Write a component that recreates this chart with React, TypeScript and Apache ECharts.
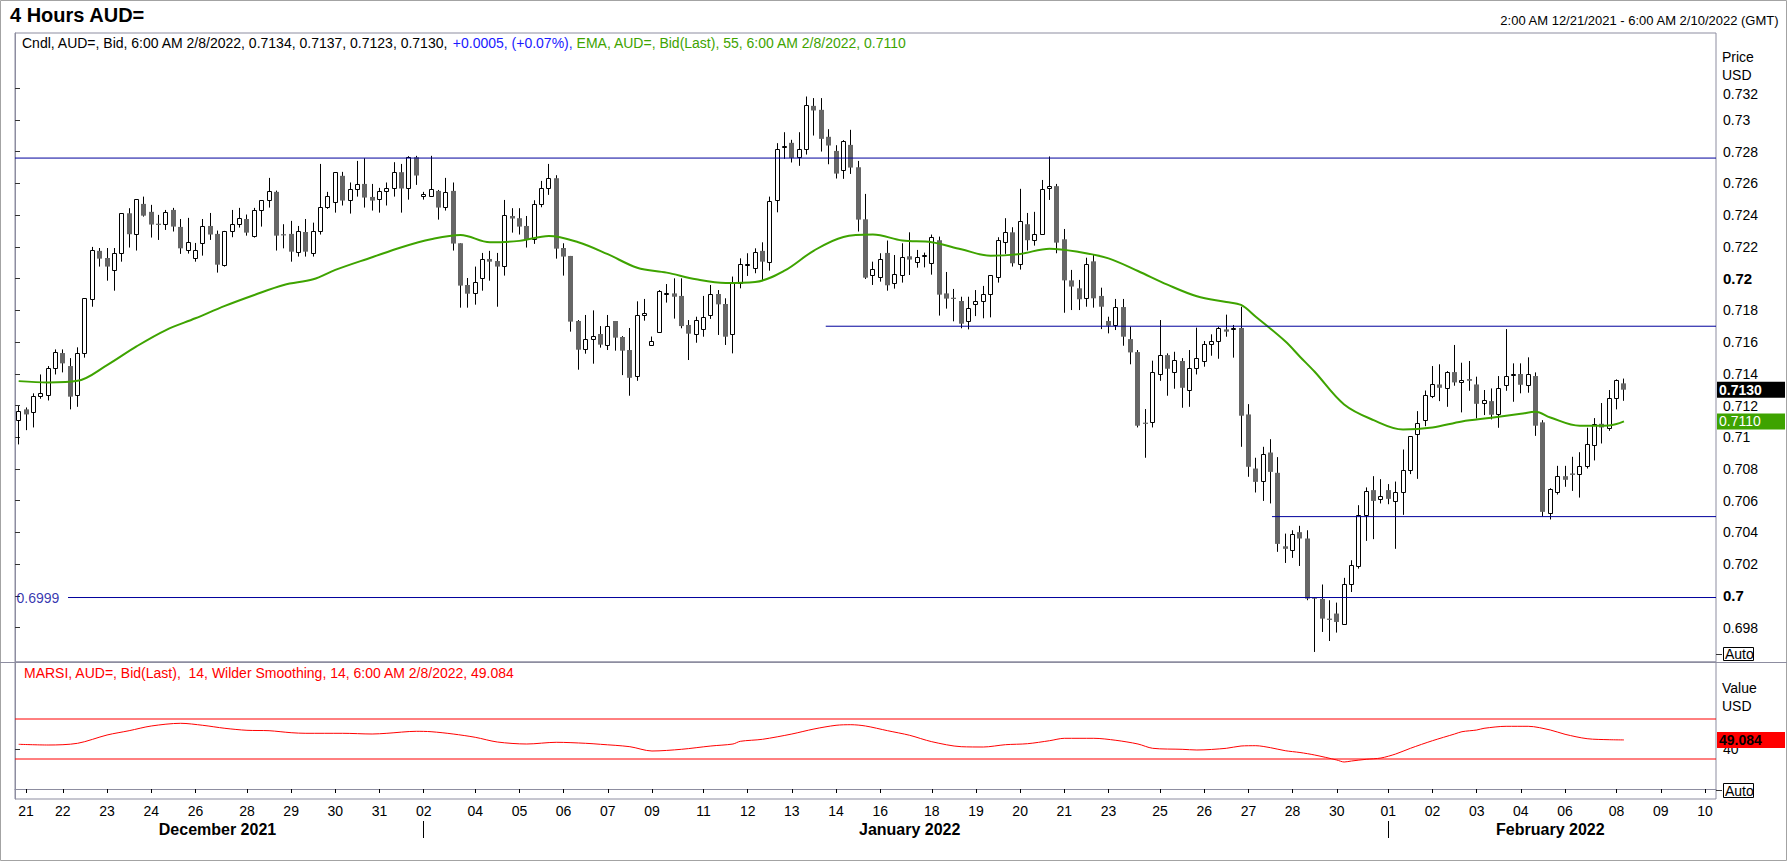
import React, { useEffect, useRef } from 'react';
import * as echarts from 'echarts';

const FONT = "'Liberation Sans', Arial, sans-serif";
const SLOTS = 231; // 4-hour slots from 2:00 AM 12/21/2021 to 6:00 AM 2/10/2022

// [open, close, low, high] for each 4-hour candle, slot 0 = 2:00 AM 12/21/2021
const candles: number[][] = [
  [0.71106, 0.71165, 0.70955, 0.71197], [0.71176, 0.71144, 0.71045, 0.71188], [0.71157, 0.71260, 0.71062, 0.71277],
  [0.71258, 0.71277, 0.71243, 0.71396], [0.71264, 0.71434, 0.71232, 0.71449], [0.71434, 0.71535, 0.71396, 0.71554],
  [0.71531, 0.71466, 0.71409, 0.71554], [0.71449, 0.71256, 0.71176, 0.71499], [0.71264, 0.71529, 0.71192, 0.71567],
  [0.71529, 0.71876, 0.71502, 0.71876], [0.71870, 0.72179, 0.71823, 0.72200], [0.72175, 0.72126, 0.72076, 0.72193],
  [0.72130, 0.72076, 0.71987, 0.72193], [0.72053, 0.72160, 0.71924, 0.72193], [0.72160, 0.72412, 0.72107, 0.72412],
  [0.72412, 0.72280, 0.72196, 0.72444], [0.72280, 0.72501, 0.72177, 0.72501], [0.72471, 0.72397, 0.72391, 0.72517],
  [0.72421, 0.72341, 0.72259, 0.72465], [0.72345, 0.72341, 0.72244, 0.72402], [0.72343, 0.72421, 0.72307, 0.72433],
  [0.72433, 0.72328, 0.72297, 0.72446], [0.72326, 0.72191, 0.72156, 0.72376], [0.72179, 0.72229, 0.72158, 0.72383],
  [0.72128, 0.72179, 0.72107, 0.72225], [0.72223, 0.72330, 0.72145, 0.72376], [0.72332, 0.72278, 0.72244, 0.72414],
  [0.72282, 0.72088, 0.72038, 0.72303], [0.72088, 0.72301, 0.72076, 0.72301], [0.72299, 0.72343, 0.72261, 0.72433],
  [0.72343, 0.72381, 0.72322, 0.72446], [0.72376, 0.72290, 0.72271, 0.72404], [0.72269, 0.72433, 0.72259, 0.72446],
  [0.72433, 0.72494, 0.72328, 0.72494], [0.72494, 0.72551, 0.72448, 0.72635], [0.72547, 0.72271, 0.72177, 0.72555],
  [0.72280, 0.72273, 0.72191, 0.72343], [0.72282, 0.72170, 0.72107, 0.72364], [0.72170, 0.72301, 0.72139, 0.72332],
  [0.72294, 0.72170, 0.72139, 0.72376], [0.72160, 0.72301, 0.72139, 0.72353], [0.72299, 0.72450, 0.72278, 0.72723],
  [0.72450, 0.72519, 0.72440, 0.72547], [0.72482, 0.72671, 0.72416, 0.72671], [0.72648, 0.72492, 0.72461, 0.72673],
  [0.72494, 0.72564, 0.72410, 0.72606], [0.72564, 0.72595, 0.72517, 0.72742], [0.72597, 0.72511, 0.72448, 0.72759],
  [0.72515, 0.72492, 0.72429, 0.72597], [0.72498, 0.72551, 0.72416, 0.72572], [0.72551, 0.72570, 0.72461, 0.72606],
  [0.72570, 0.72671, 0.72517, 0.72734], [0.72671, 0.72568, 0.72416, 0.72723], [0.72568, 0.72765, 0.72498, 0.72772],
  [0.72765, 0.72650, 0.72591, 0.72774], [0.72519, 0.72532, 0.72498, 0.72547], [0.72519, 0.72564, 0.72519, 0.72774],
  [0.72553, 0.72448, 0.72372, 0.72559], [0.72450, 0.72545, 0.72429, 0.72635], [0.72553, 0.72221, 0.72177, 0.72606],
  [0.72223, 0.71956, 0.71817, 0.72223], [0.71960, 0.71905, 0.71817, 0.72004], [0.71907, 0.71977, 0.71836, 0.72076],
  [0.72002, 0.72122, 0.71924, 0.72162], [0.72124, 0.72107, 0.71987, 0.72175], [0.72111, 0.72076, 0.71823, 0.72162],
  [0.72078, 0.72400, 0.72019, 0.72496], [0.72395, 0.72379, 0.72290, 0.72444], [0.72381, 0.72328, 0.72278, 0.72444],
  [0.72332, 0.72248, 0.72196, 0.72395], [0.72248, 0.72469, 0.72219, 0.72494], [0.72469, 0.72570, 0.72450, 0.72616],
  [0.72570, 0.72633, 0.72528, 0.72723], [0.72633, 0.72189, 0.72126, 0.72652], [0.72193, 0.72139, 0.72019, 0.72223],
  [0.72143, 0.71729, 0.71666, 0.72143], [0.71733, 0.71552, 0.71426, 0.71739], [0.71554, 0.71617, 0.71527, 0.71771],
  [0.71617, 0.71636, 0.71464, 0.71800], [0.71651, 0.71584, 0.71565, 0.71701], [0.71579, 0.71699, 0.71550, 0.71771],
  [0.71733, 0.71628, 0.71546, 0.71733], [0.71632, 0.71546, 0.71392, 0.71638], [0.71550, 0.71375, 0.71262, 0.71689],
  [0.71384, 0.71769, 0.71356, 0.71857], [0.71769, 0.71783, 0.71735, 0.71872], [0.71580, 0.71606, 0.71580, 0.71635],
  [0.71666, 0.71922, 0.71666, 0.71928], [0.71905, 0.71908, 0.71849, 0.71966], [0.71907, 0.71886, 0.71748, 0.72002],
  [0.71891, 0.71701, 0.71687, 0.72002], [0.71708, 0.71653, 0.71487, 0.71739], [0.71649, 0.71739, 0.71596, 0.71760],
  [0.71680, 0.71756, 0.71634, 0.71891], [0.71769, 0.71901, 0.71746, 0.71960], [0.71903, 0.71838, 0.71645, 0.71928],
  [0.71840, 0.71634, 0.71582, 0.71876], [0.71649, 0.71971, 0.71529, 0.72013], [0.71971, 0.72090, 0.71939, 0.72128],
  [0.72088, 0.72093, 0.72017, 0.72160], [0.72072, 0.72170, 0.72034, 0.72191], [0.72175, 0.72107, 0.71992, 0.72229],
  [0.72107, 0.72492, 0.72050, 0.72517], [0.72492, 0.72816, 0.72418, 0.72854], [0.72830, 0.72835, 0.72755, 0.72923],
  [0.72856, 0.72761, 0.72732, 0.72875], [0.72765, 0.72816, 0.72711, 0.72923], [0.72816, 0.73094, 0.72782, 0.73148],
  [0.73089, 0.73060, 0.72902, 0.73138], [0.73064, 0.72881, 0.72801, 0.73138], [0.72894, 0.72839, 0.72721, 0.72942],
  [0.72805, 0.72662, 0.72631, 0.72841], [0.72683, 0.72866, 0.72629, 0.72873], [0.72843, 0.72700, 0.72660, 0.72938],
  [0.72702, 0.72372, 0.72297, 0.72742], [0.72374, 0.72006, 0.71998, 0.72534], [0.72021, 0.72059, 0.71960, 0.72107],
  [0.72008, 0.72122, 0.71981, 0.72160], [0.72162, 0.71958, 0.71924, 0.72240], [0.71971, 0.72027, 0.71937, 0.72149],
  [0.72027, 0.72139, 0.71975, 0.72223], [0.72141, 0.72120, 0.72023, 0.72292], [0.72109, 0.72139, 0.72069, 0.72181],
  [0.72143, 0.72147, 0.72071, 0.72164], [0.72097, 0.72261, 0.72025, 0.72278], [0.72242, 0.71899, 0.71767, 0.72265],
  [0.71907, 0.71874, 0.71811, 0.72042], [0.71878, 0.71875, 0.71731, 0.71935], [0.71859, 0.71716, 0.71687, 0.71886],
  [0.71737, 0.71817, 0.71680, 0.71886], [0.71838, 0.71859, 0.71764, 0.71928], [0.71857, 0.71901, 0.71750, 0.71954],
  [0.71901, 0.72021, 0.71756, 0.72021], [0.72011, 0.72242, 0.71975, 0.72261], [0.72229, 0.72292, 0.72156, 0.72381],
  [0.72292, 0.72097, 0.72076, 0.72324], [0.72090, 0.72362, 0.72057, 0.72566], [0.72343, 0.72242, 0.72177, 0.72414],
  [0.72242, 0.72280, 0.72208, 0.72421], [0.72280, 0.72564, 0.72280, 0.72622], [0.72570, 0.72583, 0.72496, 0.72770],
  [0.72583, 0.72227, 0.72160, 0.72597], [0.72248, 0.71989, 0.71785, 0.72313], [0.71989, 0.71950, 0.71802, 0.72055],
  [0.71939, 0.71870, 0.71802, 0.71992], [0.71876, 0.72090, 0.71823, 0.72132], [0.72109, 0.71876, 0.71817, 0.72149],
  [0.71891, 0.71823, 0.71682, 0.71943], [0.71733, 0.71703, 0.71655, 0.71760], [0.71706, 0.71821, 0.71676, 0.71872],
  [0.71821, 0.71634, 0.71577, 0.71872], [0.71619, 0.71535, 0.71460, 0.71697], [0.71537, 0.71073, 0.71062, 0.71550],
  [0.71091, 0.71087, 0.70871, 0.71178], [0.71091, 0.71409, 0.71062, 0.71483], [0.71396, 0.71516, 0.71356, 0.71739],
  [0.71518, 0.71432, 0.71262, 0.71529], [0.71409, 0.71487, 0.71306, 0.71539], [0.71481, 0.71312, 0.71186, 0.71499],
  [0.71295, 0.71434, 0.71192, 0.71550], [0.71434, 0.71497, 0.71396, 0.71691], [0.71476, 0.71586, 0.71445, 0.71607],
  [0.71586, 0.71605, 0.71514, 0.71649], [0.71605, 0.71689, 0.71495, 0.71697], [0.71680, 0.71666, 0.71634, 0.71773],
  [0.71686, 0.71688, 0.71502, 0.71708], [0.71689, 0.71136, 0.70940, 0.71823], [0.71144, 0.70814, 0.70751, 0.71209],
  [0.70803, 0.70719, 0.70652, 0.70871], [0.70721, 0.70892, 0.70599, 0.70940], [0.70904, 0.70782, 0.70583, 0.70988],
  [0.70776, 0.70328, 0.70278, 0.70875], [0.70313, 0.70297, 0.70208, 0.70393], [0.70292, 0.70393, 0.70240, 0.70414],
  [0.70402, 0.70362, 0.70189, 0.70442], [0.70362, 0.69983, 0.69973, 0.70414], [0.69990, 0.69983, 0.69647, 0.69990],
  [0.69981, 0.69857, 0.69773, 0.70072], [0.69857, 0.69849, 0.69716, 0.69973], [0.69889, 0.69836, 0.69769, 0.69958],
  [0.69825, 0.70078, 0.69825, 0.70114], [0.70078, 0.70198, 0.70025, 0.70225], [0.70189, 0.70513, 0.70172, 0.70572],
  [0.70513, 0.70662, 0.70347, 0.70684], [0.70667, 0.70599, 0.70358, 0.70755], [0.70614, 0.70633, 0.70583, 0.70736],
  [0.70667, 0.70612, 0.70578, 0.70705], [0.70595, 0.70652, 0.70297, 0.70721], [0.70652, 0.70791, 0.70511, 0.70923],
  [0.70791, 0.71007, 0.70768, 0.71007], [0.71024, 0.71091, 0.70738, 0.71165], [0.71108, 0.71264, 0.71070, 0.71295],
  [0.71258, 0.71333, 0.71247, 0.71449], [0.71333, 0.71312, 0.71228, 0.71460], [0.71308, 0.71409, 0.71192, 0.71417],
  [0.71411, 0.71346, 0.71325, 0.71582], [0.71346, 0.71359, 0.71157, 0.71470], [0.71367, 0.71356, 0.71293, 0.71481],
  [0.71333, 0.71211, 0.71119, 0.71382], [0.71213, 0.71232, 0.71140, 0.71298], [0.71228, 0.71142, 0.71113, 0.71308],
  [0.71142, 0.71308, 0.71060, 0.71386], [0.71327, 0.71384, 0.71293, 0.71682], [0.71396, 0.71401, 0.71224, 0.71466],
  [0.71399, 0.71331, 0.71277, 0.71466], [0.71331, 0.71399, 0.71281, 0.71504], [0.71386, 0.71073, 0.71009, 0.71409],
  [0.71094, 0.70530, 0.70501, 0.71108], [0.70519, 0.70671, 0.70482, 0.70679], [0.70652, 0.70755, 0.70639, 0.70820],
  [0.70755, 0.70732, 0.70688, 0.70820], [0.70772, 0.70763, 0.70662, 0.70877], [0.70766, 0.70816, 0.70620, 0.70906],
  [0.70816, 0.70955, 0.70803, 0.71060], [0.70955, 0.71085, 0.70854, 0.71121], [0.71085, 0.71062, 0.70961, 0.71216],
  [0.71056, 0.71245, 0.71041, 0.71298], [0.71245, 0.71359, 0.71176, 0.71365], [0.71340, 0.71300, 0.71230, 0.71370],
];

// EMA(55): [slot, value]
const emaPoints: number[][] = [
  [0, 0.71354], [4, 0.71346], [8, 0.71356], [12, 0.71455], [16, 0.71573], [20, 0.71676], [24, 0.71750],
  [28, 0.71828], [32, 0.71897], [36, 0.71960], [40, 0.71996], [43, 0.72055], [48, 0.72135], [52, 0.72198],
  [56, 0.72248], [60, 0.72275], [64, 0.72229], [68, 0.72238], [72, 0.72269], [76, 0.72229], [80, 0.72154],
  [84, 0.72069], [88, 0.72038], [92, 0.71996], [96, 0.71973], [100, 0.71979], [104, 0.72050], [108, 0.72177],
  [112, 0.72263], [116, 0.72278], [120, 0.72240], [124, 0.72229], [128, 0.72185], [132, 0.72145], [136, 0.72156],
  [140, 0.72189], [144, 0.72168], [148, 0.72128], [152, 0.72048], [156, 0.71962], [160, 0.71889], [164, 0.71853],
  [166, 0.71834], [168, 0.71760], [172, 0.71605], [174, 0.71508], [176, 0.71413], [180, 0.71207], [184, 0.71108],
  [188, 0.71049], [192, 0.71062], [196, 0.71100], [200, 0.71123], [204, 0.71148], [206, 0.71161], [208, 0.71125],
  [212, 0.71073], [216, 0.71075], [218, 0.71100],
];

// MARSI(14): [slot, value]
const rsiPoints: number[][] = [
  [0, 44.7], [4, 44.0], [8, 45.7], [12, 54.0], [15, 58.3], [18, 63.0], [22, 65.7], [25, 63.7], [28, 60.7],
  [31, 58.7], [34, 58.3], [37, 56.3], [39, 55.7], [44, 55.7], [48, 55.0], [50, 55.7], [54, 57.7], [56, 57.3],
  [59, 55.0], [62, 51.7], [65, 47.0], [69, 45.0], [73, 46.7], [77, 45.7], [79, 44.7], [83, 42.3], [86, 38.0],
  [90, 39.7], [94, 43.0], [97, 45.0], [98, 47.7], [101, 49.7], [105, 55.0], [108, 60.0], [111, 63.7], [113, 64.3],
  [115, 63.0], [118, 58.3], [121, 53.7], [124, 47.3], [128, 42.3], [131, 42.0], [134, 44.3], [137, 45.3],
  [140, 48.3], [142, 50.7], [146, 50.7], [149, 48.7], [152, 45.0], [154, 40.7], [158, 39.7], [160, 39.0],
  [164, 40.7], [166, 43.0], [168, 43.3], [170, 41.3], [172, 38.3], [174, 36.5], [176, 34.0], [179, 29.0],
  [180, 27.0], [181, 28.0], [183, 29.7], [185, 31.0], [187, 35.0], [189, 40.7], [192, 48.3], [195, 55.0],
  [196, 57.3], [198, 59.0], [199, 60.7], [202, 62.7], [205, 62.7], [208, 59.0], [210, 54.7], [213, 50.3],
  [216, 49.3], [218, 49.084],
];

// horizontal support / resistance lines: value and first slot
const levelValues = [0.7276, 0.7170, 0.7050, 0.6999];
const levelStartSlots = [0, 110.1, 170.7, 7.2];
const rsiBands = [70, 30];

const priceTicks = [0.698, 0.7, 0.702, 0.704, 0.706, 0.708, 0.71, 0.712, 0.714, 0.716, 0.718, 0.72, 0.722,
  0.724, 0.726, 0.728, 0.73, 0.732];
const boldPriceTicks = [0.7, 0.72];
const rsiTicks = [40];

const dayTicks: [number, string][] = [
  [1, '21'], [6, '22'], [12, '23'], [18, '24'], [24, '26'], [31, '28'], [37, '29'], [43, '30'], [49, '31'],
  [55, '02'], [62, '04'], [68, '05'], [74, '06'], [80, '07'], [86, '09'], [93, '11'], [99, '12'], [105, '13'],
  [111, '14'], [117, '16'], [124, '18'], [130, '19'], [136, '20'], [142, '21'], [148, '23'], [155, '25'],
  [161, '26'], [167, '27'], [173, '28'], [179, '30'], [186, '01'], [192, '02'], [198, '03'], [204, '04'],
  [210, '06'], [217, '08'], [223, '09'], [229, '10'],
];
const monthLabels: [number, string][] = [[27, 'December 2021'], [121, 'January 2022'], [208, 'February 2022']];
const monthBreaks = [55, 186];

const lastClose = 0.7130;
const lastEma = 0.7110;
const lastRsi = 49.084;

const titleText = '4 Hours AUD=';
const rangeText = '2:00 AM 12/21/2021 - 6:00 AM 2/10/2022 (GMT)';
const candleLegend = 'Cndl, AUD=, Bid, 6:00 AM 2/8/2022, 0.7134, 0.7137, 0.7123, 0.7130, ';
const changeLegend = '+0.0005, (+0.07%), ';
const emaLegend = 'EMA, AUD=, Bid(Last), 55, 6:00 AM 2/8/2022, 0.7110';
const rsiLegend = 'MARSI, AUD=, Bid(Last),  14, Wilder Smoothing, 14, 6:00 AM 2/8/2022, 49.084';

const PRICE_MIN = 0.695836;
const PRICE_MAX = 0.735483;
const RSI_MIN = -10;
const RSI_MAX = 127;

const BLUE = '#00009c';
const GREEN = '#3ea300';
const RED = '#ff0000';
const AXIS = '#8d8da0';

function boxStyle(bg: string, fg: string, bold: boolean) {
  return {
    backgroundColor: bg,
    color: fg,
    fontFamily: FONT,
    fontSize: 14,
    fontWeight: bold ? 'bold' : 'normal',
    padding: [1, 0, 1, 2],
    width: 66,
    height: 14,
    lineHeight: 14,
    align: 'left',
  };
}

function buildOption(): any {
  const dayMap = new Map<number, string>(dayTicks);
  const monthMap = new Map<number, string>(monthLabels);
  const slotNames = Array.from({ length: SLOTS }, (_, i) => String(i));
  const topTick = priceTicks[priceTicks.length - 1];

  const levelSeries = levelValues.map((v, i) => ({
    type: 'line',
    xAxisIndex: 0,
    yAxisIndex: 0,
    data: [[levelStartSlots[i], v], [SLOTS, v]],
    showSymbol: false,
    symbol: 'none',
    silent: true,
    z: 4,
    lineStyle: { color: BLUE, width: 1 },
  }));

  const bandSeries = rsiBands.map((v) => ({
    type: 'line',
    xAxisIndex: 1,
    yAxisIndex: 1,
    data: [[0, v], [SLOTS, v]],
    symbol: 'none',
    silent: true,
    lineStyle: { color: RED, width: 1 },
  }));

  return {
    animation: false,
    backgroundColor: '#ffffff',
    textStyle: { fontFamily: FONT },
    grid: [
      { left: 15, top: 33, width: 1701, height: 629, show: true, borderColor: AXIS, borderWidth: 1 },
      { left: 15, top: 662, width: 1701, height: 137, show: true, borderColor: AXIS, borderWidth: 1 },
    ],
    xAxis: [
      { type: 'value', gridIndex: 0, min: 0, max: SLOTS, show: false },
      { type: 'value', gridIndex: 1, min: 0, max: SLOTS, show: false },
      {
        type: 'category',
        gridIndex: 1,
        data: slotNames,
        boundaryGap: true,
        position: 'bottom',
        axisLine: { show: true, lineStyle: { color: AXIS, width: 1 } },
        axisTick: {
          show: true,
          alignWithLabel: true,
          interval: (i: number) => dayMap.has(i),
          length: 4,
          lineStyle: { color: '#000' },
        },
        axisLabel: {
          interval: (i: number) => dayMap.has(i),
          formatter: (v: string) => dayMap.get(Number(v)) ?? '',
          margin: 5,
          fontSize: 14,
          color: '#000',
          fontFamily: FONT,
        },
        splitLine: { show: false },
      },
      {
        type: 'category',
        gridIndex: 1,
        data: slotNames,
        boundaryGap: true,
        position: 'bottom',
        offset: 22,
        axisLine: { show: false },
        axisTick: {
          show: true,
          alignWithLabel: true,
          interval: (i: number) => monthBreaks.includes(i),
          length: 17,
          lineStyle: { color: '#000' },
        },
        axisLabel: {
          interval: (i: number) => monthMap.has(i),
          formatter: (v: string) => monthMap.get(Number(v)) ?? '',
          margin: 0,
          fontSize: 16,
          fontWeight: 'bold',
          color: '#000',
          fontFamily: FONT,
        },
        splitLine: { show: false },
      },
    ],
    yAxis: [
      {
        type: 'value',
        gridIndex: 0,
        position: 'right',
        min: PRICE_MIN,
        max: PRICE_MAX,
        splitLine: { show: false },
        axisLine: { show: true, lineStyle: { color: AXIS } },
        axisTick: { show: true, length: 5, customValues: priceTicks, lineStyle: { color: '#333' } },
        axisLabel: {
          customValues: priceTicks,
          margin: 7,
          fontSize: 14,
          color: '#000',
          fontFamily: FONT,
          formatter: (v: number) => {
            const t = String(Number(v.toFixed(3)));
            if (boldPriceTicks.some((b) => Math.abs(v - b) < 1e-9)) return `{b|${t}}`;
            if (Math.abs(v - topTick) < 1e-9) return `{d|${t}}`;
            return t;
          },
          rich: {
            b: { fontWeight: 'bold', fontSize: 15, color: '#000', fontFamily: FONT },
            d: { fontSize: 14, color: '#000', fontFamily: FONT, padding: [12, 0, 0, 0] },
          },
        },
      },
      {
        type: 'value',
        gridIndex: 1,
        position: 'right',
        min: RSI_MIN,
        max: RSI_MAX,
        splitLine: { show: false },
        axisLine: { show: true, lineStyle: { color: AXIS } },
        axisTick: { show: true, length: 5, customValues: rsiTicks, lineStyle: { color: '#333' } },
        axisLabel: {
          customValues: rsiTicks,
          margin: 7,
          fontSize: 14,
          color: '#000',
          fontFamily: FONT,
        },
      },
      {
        // current-value boxes for price and EMA
        type: 'value',
        gridIndex: 0,
        position: 'right',
        min: PRICE_MIN,
        max: PRICE_MAX,
        z: 5,
        splitLine: { show: false },
        axisLine: { show: false },
        axisTick: { show: false },
        axisLabel: {
          customValues: [lastEma, lastClose],
          margin: 1,
          formatter: (v: number) => (Math.abs(v - lastClose) < 1e-9 ? `{k|${lastClose.toFixed(4)}}` : `{g|${lastEma.toFixed(4)}}`),
          rich: {
            k: boxStyle('#000000', '#ffffff', true),
            g: boxStyle(GREEN, '#ffffff', false),
          },
        },
      },
      {
        // current-value box for MARSI
        type: 'value',
        gridIndex: 1,
        position: 'right',
        min: RSI_MIN,
        max: RSI_MAX,
        z: 5,
        splitLine: { show: false },
        axisLine: { show: false },
        axisTick: { show: false },
        axisLabel: {
          customValues: [lastRsi],
          margin: 1,
          formatter: () => `{r|${lastRsi.toFixed(3)}}`,
          rich: { r: boxStyle(RED, '#000000', true) },
        },
      },
    ],
    series: [
      {
        type: 'custom',
        name: 'Cndl',
        xAxisIndex: 0,
        yAxisIndex: 0,
        z: 2,
        clip: true,
        silent: true,
        data: candles.map((c, i) => [i + 0.5, c[0], c[1], c[2], c[3]]),
        encode: { x: 0, y: [1, 2, 3, 4] },
        renderItem: (_params: any, api: any) => {
          const x = api.value(0);
          const o = api.value(1);
          const c = api.value(2);
          const lo = api.value(3);
          const hi = api.value(4);
          const pO = api.coord([x, o]);
          const pC = api.coord([x, c]);
          const pL = api.coord([x, lo]);
          const pH = api.coord([x, hi]);
          const slotW = api.size([1, 0])[0];
          const bw = Math.max(3, Math.round(slotW * 0.68));
          const R = Math.round(pO[0] - 0.5);
          const cx = R + 0.5;
          const up = c > o;
          let top = Math.min(pO[1], pC[1]);
          let h = Math.abs(pO[1] - pC[1]);
          if (h < 1) {
            top = (pO[1] + pC[1]) / 2 - 0.5;
            h = 1;
          }
          const half = Math.floor(bw / 2);
          const body = up
            ? {
                type: 'rect',
                shape: { x: R - half + 0.5, y: Math.round(top) + 0.5, width: bw - 1, height: Math.max(1, Math.round(h)) },
                style: { fill: '#ffffff', stroke: '#000000', lineWidth: 1 },
              }
            : {
                type: 'rect',
                shape: { x: R - half, y: top, width: bw, height: Math.max(1.2, h) },
                style: { fill: '#666666' },
              };
          return {
            type: 'group',
            children: [
              { type: 'line', shape: { x1: cx, y1: pH[1], x2: cx, y2: pL[1] }, style: { stroke: '#000000', lineWidth: 1 } },
              body,
            ],
          };
        },
      },
      {
        type: 'line',
        name: 'EMA',
        xAxisIndex: 0,
        yAxisIndex: 0,
        z: 3,
        data: emaPoints.map(([s, v]) => [s + 0.5, v]),
        smooth: 0.35,
        symbol: 'none',
        silent: true,
        lineStyle: { color: GREEN, width: 2 },
      },
      ...levelSeries,
      {
        type: 'scatter',
        xAxisIndex: 0,
        yAxisIndex: 0,
        data: [[0, levelValues[3]]],
        symbolSize: 1,
        itemStyle: { color: 'rgba(0,0,0,0)' },
        silent: true,
        clip: false,
        z: 5,
        label: {
          show: true,
          position: 'right',
          distance: 1,
          formatter: levelValues[3].toFixed(4),
          color: BLUE,
          fontSize: 14,
          fontFamily: FONT,
        },
      },
      ...bandSeries,
      {
        type: 'line',
        name: 'MARSI',
        xAxisIndex: 1,
        yAxisIndex: 1,
        data: rsiPoints.map(([s, v]) => [s + 0.5, v]),
        smooth: 0.3,
        symbol: 'none',
        silent: true,
        lineStyle: { color: RED, width: 1 },
      },
    ],
    graphic: [
      { type: 'rect', z: 100, silent: true, shape: { x: 0.5, y: 0.5, width: 1786, height: 860 }, style: { fill: 'none', stroke: '#a3a3a3', lineWidth: 1 } },
      { type: 'line', z: 100, silent: true, shape: { x1: 0, y1: 662.5, x2: 1787, y2: 662.5 }, style: { stroke: AXIS, lineWidth: 1 } },
      { type: 'text', z: 100, left: 10, top: 5, silent: true, style: { text: titleText, font: `bold 20px ${FONT}`, fill: '#000' } },
      { type: 'text', z: 100, right: 8, top: 14, silent: true, style: { text: rangeText, font: `13px ${FONT}`, fill: '#000' } },
      {
        type: 'text', z: 100, left: 22, top: 36, silent: true,
        style: {
          text: `{k|${candleLegend}}{b|${changeLegend}}{g|${emaLegend}}`,
          font: `14px ${FONT}`,
          rich: {
            k: { fill: '#000000', color: '#000000', fontSize: 14, fontFamily: FONT },
            b: { fill: '#1a1aff', color: '#1a1aff', fontSize: 14, fontFamily: FONT },
            g: { fill: GREEN, color: GREEN, fontSize: 14, fontFamily: FONT },
          },
        },
      },
      { type: 'text', z: 100, left: 24, top: 666, silent: true, style: { text: rsiLegend, font: `14px ${FONT}`, fill: RED } },
      { type: 'text', z: 100, left: 1722, top: 50, silent: true, style: { text: 'Price', font: `14px ${FONT}`, fill: '#000' } },
      { type: 'text', z: 100, left: 1722, top: 68, silent: true, style: { text: 'USD', font: `14px ${FONT}`, fill: '#000' } },
      { type: 'text', z: 100, left: 1722, top: 681, silent: true, style: { text: 'Value', font: `14px ${FONT}`, fill: '#000' } },
      { type: 'text', z: 100, left: 1722, top: 699, silent: true, style: { text: 'USD', font: `14px ${FONT}`, fill: '#000' } },
      { type: 'line', z: 100, silent: true, shape: { x1: 1716, y1: 654.5, x2: 1722, y2: 654.5 }, style: { stroke: '#333', lineWidth: 1 } },
      { type: 'rect', z: 100, silent: true, shape: { x: 1723.5, y: 647.5, width: 30, height: 13 }, style: { fill: '#fff', stroke: '#000', lineWidth: 1 } },
      { type: 'text', z: 101, left: 1725, top: 647, silent: true, style: { text: 'Auto', font: `14px ${FONT}`, fill: '#000' } },
      { type: 'line', z: 100, silent: true, shape: { x1: 1716, y1: 790.5, x2: 1722, y2: 790.5 }, style: { stroke: '#333', lineWidth: 1 } },
      { type: 'rect', z: 100, silent: true, shape: { x: 1723.5, y: 783.5, width: 30, height: 14 }, style: { fill: '#fff', stroke: '#000', lineWidth: 1 } },
      { type: 'text', z: 101, left: 1725, top: 784, silent: true, style: { text: 'Auto', font: `14px ${FONT}`, fill: '#000' } },
    ],
  };
}

export default function App() {
  const ref = useRef<HTMLDivElement>(null);
  useEffect(() => {
    document.body.style.margin = '0';
    if (!ref.current) return;
    const chart = echarts.init(ref.current, null, { renderer: 'svg' });
    chart.setOption(buildOption());
    return () => chart.dispose();
  }, []);
  return <div ref={ref} style={{ width: 1788, height: 862, background: '#fff' }} />;
}
